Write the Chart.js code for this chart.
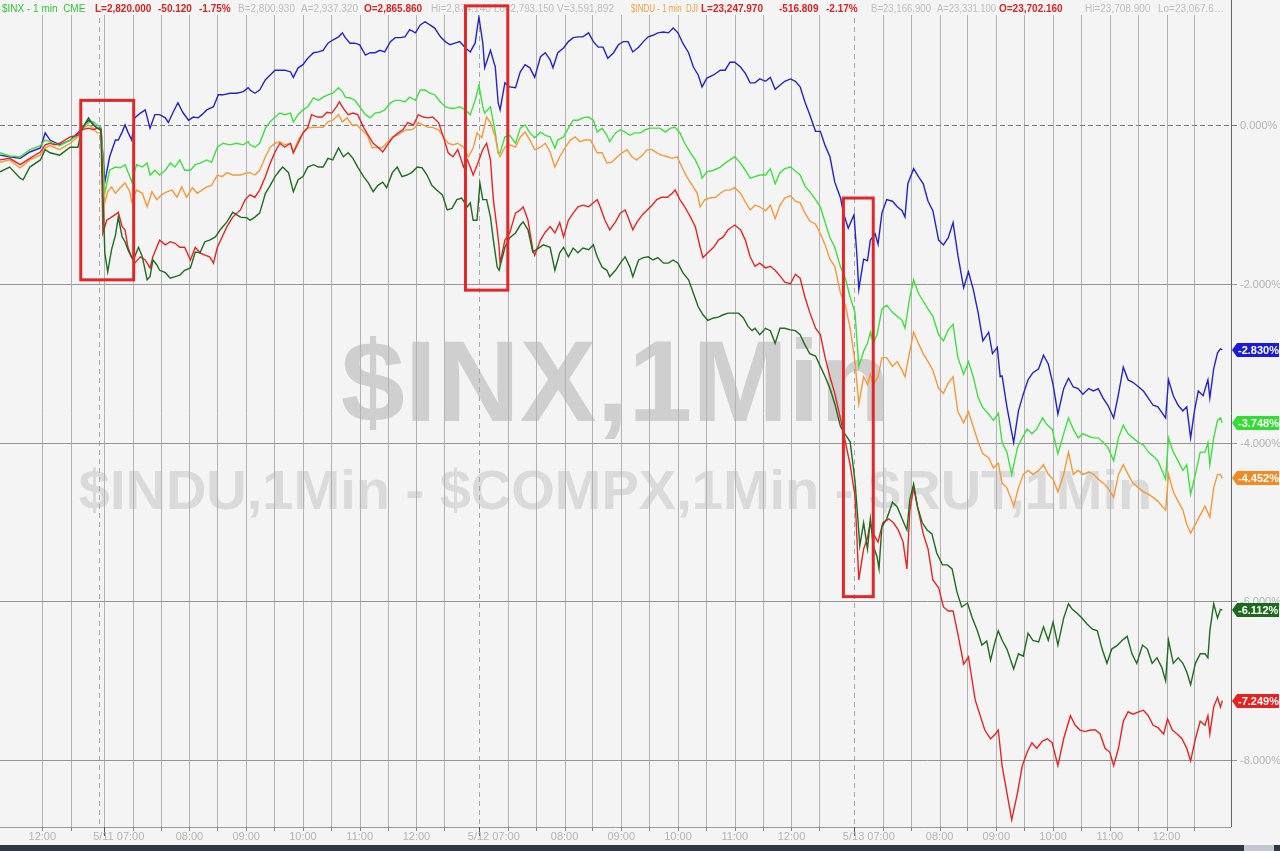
<!DOCTYPE html>
<html>
<head>
<meta charset="utf-8">
<title>$INX 1Min</title>
<script src="https://cdn.jsdelivr.net/npm/chart.js@4.4.0/dist/chart.umd.min.js"></script>
<style>
  html, body { margin: 0; padding: 0; background: #f4f4f4; }
  #wrap { width: 1280px; height: 851px; position: relative; }
</style>
</head>
<body>
<div id="wrap"><canvas id="chart"></canvas></div>
<script>
// x = chart slot (1-min bars incl. the small overnight gaps), y = % change
const compx = [[0,-0.38],[10,-0.40],[21,-0.42],[31,-0.34],[42,-0.29],[47,-0.10],[52,-0.19],[62,-0.25],[73,-0.19],[81,-0.10],[85,-0.04],[92,0.06],[97,0.01],[101,-0.04],[105,-0.04],[109,-0.72],[114,-0.40],[120,-0.19],[123,-0.19],[127,-0.09],[130,0.00],[133,-0.09],[137,-0.19],[140,0.09],[146,0.15],[151,0.19],[156,-0.04],[161,0.13],[166,0.13],[172,0.09],[175,0.03],[180,0.16],[185,0.28],[190,0.16],[196,0.06],[201,0.10],[206,0.09],[210,0.13],[215,0.19],[222,0.23],[227,0.38],[232,0.38],[239,0.40],[246,0.40],[253,0.42],[258,0.47],[260,0.44],[265,0.40],[270,0.44],[276,0.57],[281,0.63],[286,0.69],[291,0.69],[296,0.69],[302,0.67],[305,0.60],[310,0.72],[315,0.76],[320,0.84],[326,0.91],[331,0.92],[336,0.94],[341,1.03],[346,1.07],[352,1.11],[356,1.16],[359,1.10],[364,1.03],[369,1.03],[374,1.01],[380,0.88],[385,0.91],[390,0.91],[395,0.94],[400,0.92],[406,1.05],[411,1.10],[416,1.10],[421,1.11],[426,1.20],[432,1.16],[437,1.26],[442,1.30],[447,1.26],[452,1.22],[458,1.11],[463,1.05],[468,1.01],[473,1.03],[478,1.05],[484,0.97],[489,0.92],[494,1.03],[498,1.36],[502,1.03],[504,0.72],[510,0.94],[515,0.73],[518,0.28],[520,0.19],[525,0.53],[530,0.48],[536,0.47],[541,0.67],[546,0.76],[551,0.72],[556,0.60],[562,0.86],[567,0.91],[572,0.82],[575,0.72],[580,0.91],[586,0.97],[591,1.05],[596,1.10],[601,1.11],[606,1.11],[612,1.16],[617,1.05],[622,0.98],[627,0.98],[632,0.84],[638,0.91],[643,1.01],[648,1.05],[653,1.05],[658,0.92],[664,0.98],[669,1.05],[674,1.11],[679,1.13],[684,1.16],[690,1.17],[695,1.16],[700,1.22],[705,1.16],[710,1.03],[716,0.91],[721,0.73],[726,0.63],[730,0.48],[735,0.59],[742,0.63],[749,0.69],[754,0.69],[759,0.79],[764,0.79],[770,0.73],[775,0.65],[780,0.53],[785,0.53],[790,0.58],[796,0.55],[801,0.60],[806,0.45],[811,0.50],[816,0.55],[822,0.58],[827,0.55],[832,0.48],[837,0.29],[842,0.13],[848,-0.08],[853,-0.08],[858,-0.26],[863,-0.40],[868,-0.72],[874,-0.92],[877,-1.11],[882,-1.30],[888,-1.13],[891,-1.64],[893,-2.07],[898,-1.69],[902,-1.71],[905,-1.45],[910,-1.37],[913,-1.50],[917,-1.11],[922,-0.94],[928,-0.96],[933,-1.03],[938,-1.08],[941,-1.16],[944,-0.74],[950,-0.55],[955,-0.65],[960,-0.74],[965,-0.96],[970,-1.08],[976,-1.45],[981,-1.51],[986,-1.42],[991,-1.23],[996,-1.64],[1002,-2.05],[1007,-1.85],[1012,-2.07],[1017,-2.36],[1022,-2.72],[1028,-2.61],[1032,-2.88],[1037,-2.80],[1040,-3.17],[1042,-3.16],[1047,-3.55],[1054,-4.00],[1059,-3.60],[1064,-3.39],[1069,-3.21],[1074,-3.12],[1080,-3.07],[1085,-2.90],[1090,-3.01],[1095,-3.27],[1100,-3.64],[1106,-3.32],[1111,-3.19],[1116,-3.30],[1121,-3.32],[1126,-3.39],[1132,-3.32],[1137,-3.35],[1142,-3.32],[1147,-3.44],[1152,-3.53],[1158,-3.69],[1163,-3.39],[1168,-3.05],[1173,-3.21],[1178,-3.24],[1184,-3.30],[1189,-3.35],[1194,-3.44],[1199,-3.53],[1204,-3.55],[1212,-3.69],[1215,-3.21],[1220,-3.41],[1225,-3.53],[1230,-3.60],[1234,-3.55],[1238,-3.94],[1242,-3.60],[1246,-3.35],[1251,-3.41],[1256,-3.21],[1258,-3.44],[1262,-3.07],[1266,-2.87],[1269,-2.82],[1271,-2.83]];

const inx = [[0,-0.35],[10,-0.39],[21,-0.40],[31,-0.31],[42,-0.26],[47,-0.19],[52,-0.21],[62,-0.26],[73,-0.19],[81,-0.13],[85,-0.04],[92,0.03],[97,0.04],[101,0.00],[105,-0.03],[109,-0.86],[114,-0.57],[120,-0.53],[125,-0.54],[130,-0.50],[135,-0.65],[137,-0.72],[142,-0.50],[148,-0.53],[153,-0.48],[156,-0.63],[161,-0.57],[166,-0.63],[172,-0.57],[177,-0.48],[182,-0.53],[187,-0.44],[192,-0.57],[198,-0.57],[203,-0.50],[208,-0.48],[215,-0.44],[220,-0.47],[226,-0.28],[232,-0.23],[239,-0.25],[246,-0.23],[253,-0.25],[258,-0.21],[260,-0.25],[265,-0.28],[270,-0.23],[276,-0.04],[281,0.04],[286,0.10],[291,0.15],[296,0.13],[302,0.15],[305,0.04],[310,0.13],[315,0.19],[320,0.23],[326,0.34],[331,0.31],[336,0.35],[341,0.38],[346,0.40],[352,0.47],[356,0.42],[359,0.35],[364,0.34],[369,0.31],[374,0.23],[380,0.13],[385,0.09],[390,0.15],[395,0.16],[400,0.19],[406,0.28],[411,0.31],[416,0.31],[421,0.29],[426,0.35],[432,0.31],[437,0.44],[442,0.44],[447,0.40],[452,0.38],[458,0.29],[463,0.23],[468,0.21],[473,0.21],[478,0.23],[484,0.19],[489,0.13],[494,0.31],[498,0.50],[502,0.23],[504,0.15],[510,0.23],[515,-0.10],[518,-0.35],[520,-0.35],[525,-0.15],[530,-0.13],[536,-0.23],[541,-0.04],[546,0.00],[551,-0.10],[556,-0.16],[562,-0.09],[567,-0.13],[572,-0.15],[577,-0.29],[580,-0.19],[586,-0.15],[591,-0.04],[596,0.06],[601,0.06],[606,0.09],[612,0.10],[617,0.06],[621,-0.09],[626,-0.04],[631,-0.13],[634,-0.21],[640,-0.10],[645,-0.06],[650,-0.09],[655,-0.13],[660,-0.10],[666,-0.10],[671,-0.06],[676,-0.04],[681,-0.04],[686,-0.04],[692,-0.09],[697,-0.04],[702,-0.03],[707,-0.10],[712,-0.23],[718,-0.35],[723,-0.44],[728,-0.57],[730,-0.67],[735,-0.59],[742,-0.57],[749,-0.53],[754,-0.48],[759,-0.44],[764,-0.40],[770,-0.48],[775,-0.57],[780,-0.67],[785,-0.65],[790,-0.63],[796,-0.63],[801,-0.55],[806,-0.74],[811,-0.60],[816,-0.55],[822,-0.53],[827,-0.58],[832,-0.63],[837,-0.77],[842,-0.84],[848,-0.94],[853,-1.03],[858,-1.23],[863,-1.42],[868,-1.54],[874,-1.79],[879,-1.93],[884,-2.17],[889,-2.36],[893,-3.04],[898,-2.85],[902,-2.75],[905,-2.61],[908,-2.75],[912,-2.64],[917,-2.32],[922,-2.27],[928,-2.36],[933,-2.41],[938,-2.46],[941,-2.56],[946,-2.17],[950,-1.95],[955,-2.12],[960,-2.22],[965,-2.32],[970,-2.41],[976,-2.64],[981,-2.72],[986,-2.58],[991,-2.51],[996,-2.93],[1002,-3.14],[1007,-2.98],[1012,-3.17],[1017,-3.43],[1022,-3.56],[1028,-3.64],[1033,-3.72],[1038,-3.63],[1042,-4.00],[1047,-4.12],[1052,-4.40],[1058,-4.06],[1063,-3.94],[1068,-3.83],[1073,-3.89],[1078,-3.83],[1084,-3.69],[1089,-3.78],[1094,-3.83],[1100,-4.14],[1106,-3.89],[1111,-3.69],[1116,-3.83],[1121,-3.94],[1126,-3.89],[1132,-3.92],[1137,-3.94],[1142,-3.94],[1147,-4.00],[1152,-4.06],[1158,-4.23],[1163,-3.94],[1168,-3.78],[1173,-3.89],[1178,-3.94],[1184,-4.00],[1189,-4.03],[1194,-4.12],[1199,-4.17],[1204,-4.23],[1212,-4.46],[1215,-3.94],[1220,-4.12],[1225,-4.23],[1230,-4.35],[1234,-4.28],[1238,-4.65],[1243,-4.40],[1248,-4.12],[1253,-4.12],[1256,-4.00],[1258,-4.28],[1262,-3.94],[1266,-3.72],[1269,-3.69],[1271,-3.75]];

const indu = [[0,-0.47],[10,-0.44],[21,-0.54],[31,-0.44],[42,-0.38],[47,-0.29],[52,-0.26],[62,-0.31],[73,-0.23],[81,-0.15],[85,-0.06],[92,0.00],[97,-0.04],[101,-0.10],[105,-0.10],[109,-0.98],[112,-0.84],[116,-0.78],[120,-0.86],[125,-0.79],[130,-0.73],[135,-0.84],[137,-0.97],[142,-0.82],[148,-0.86],[153,-1.03],[158,-0.84],[163,-0.94],[168,-0.88],[174,-0.84],[179,-0.82],[184,-0.91],[189,-0.78],[194,-0.91],[200,-0.79],[205,-0.86],[210,-0.82],[215,-0.78],[220,-0.76],[226,-0.63],[231,-0.65],[236,-0.60],[242,-0.63],[250,-0.63],[258,-0.60],[260,-0.60],[265,-0.63],[270,-0.57],[276,-0.40],[281,-0.28],[286,-0.23],[291,-0.21],[296,-0.25],[302,-0.23],[305,-0.35],[310,-0.19],[315,-0.10],[320,-0.04],[326,-0.03],[331,-0.03],[336,-0.03],[341,0.04],[346,0.06],[352,0.13],[356,0.04],[361,0.09],[366,0.00],[371,0.00],[376,-0.06],[382,-0.13],[387,-0.29],[392,-0.28],[397,-0.29],[402,-0.23],[408,-0.15],[413,-0.13],[418,-0.09],[423,-0.06],[428,-0.06],[432,-0.03],[435,0.03],[440,0.00],[445,-0.03],[450,-0.03],[456,-0.06],[461,-0.15],[466,-0.23],[471,-0.25],[476,-0.23],[482,-0.28],[487,-0.40],[492,-0.29],[496,-0.10],[501,-0.16],[506,0.10],[510,0.03],[515,-0.15],[518,-0.35],[520,-0.40],[525,-0.28],[530,-0.25],[536,-0.28],[541,-0.15],[546,-0.09],[551,-0.19],[556,-0.31],[562,-0.28],[567,-0.23],[572,-0.34],[577,-0.53],[582,-0.40],[588,-0.28],[593,-0.19],[598,-0.15],[603,-0.21],[608,-0.19],[614,-0.19],[621,-0.35],[626,-0.35],[631,-0.48],[636,-0.47],[642,-0.40],[647,-0.35],[652,-0.31],[657,-0.40],[662,-0.44],[668,-0.38],[673,-0.31],[678,-0.31],[683,-0.35],[688,-0.38],[694,-0.40],[699,-0.42],[704,-0.40],[709,-0.53],[714,-0.65],[720,-0.76],[725,-0.86],[728,-1.03],[733,-0.94],[738,-0.92],[744,-0.91],[749,-0.86],[754,-0.82],[759,-0.82],[764,-0.79],[770,-0.86],[775,-0.97],[780,-1.07],[785,-1.01],[790,-1.03],[796,-1.08],[801,-1.01],[806,-1.18],[811,-1.01],[816,-0.92],[822,-0.89],[827,-0.96],[832,-0.98],[837,-1.11],[842,-1.21],[848,-1.25],[853,-1.37],[858,-1.51],[863,-1.69],[868,-1.78],[874,-2.12],[879,-2.27],[884,-2.56],[889,-2.98],[893,-3.51],[898,-3.17],[902,-3.27],[905,-3.14],[908,-3.27],[913,-3.17],[917,-2.93],[922,-2.93],[928,-3.04],[933,-2.98],[938,-3.09],[941,-3.17],[946,-2.85],[950,-2.61],[955,-2.75],[960,-2.88],[965,-2.98],[970,-3.09],[976,-3.32],[981,-3.38],[986,-3.25],[991,-3.17],[996,-3.61],[1002,-3.75],[1007,-3.61],[1012,-3.80],[1017,-3.99],[1022,-4.14],[1028,-4.19],[1033,-4.32],[1038,-4.26],[1042,-4.51],[1047,-4.57],[1054,-4.80],[1059,-4.57],[1064,-4.40],[1069,-4.35],[1074,-4.40],[1080,-4.35],[1085,-4.28],[1090,-4.40],[1095,-4.46],[1100,-4.62],[1106,-4.40],[1111,-4.12],[1116,-4.40],[1121,-4.35],[1126,-4.40],[1132,-4.37],[1137,-4.40],[1142,-4.46],[1147,-4.51],[1152,-4.57],[1158,-4.69],[1163,-4.40],[1168,-4.28],[1173,-4.40],[1178,-4.51],[1184,-4.57],[1189,-4.62],[1194,-4.65],[1199,-4.69],[1204,-4.74],[1212,-4.85],[1215,-4.40],[1220,-4.62],[1225,-4.74],[1230,-4.85],[1234,-5.03],[1238,-5.14],[1243,-5.03],[1248,-4.91],[1253,-4.80],[1258,-4.94],[1262,-4.57],[1266,-4.40],[1269,-4.40],[1271,-4.45]];

const rut = [[0,-0.44],[10,-0.42],[21,-0.50],[31,-0.42],[42,-0.34],[47,-0.25],[52,-0.23],[57,-0.25],[62,-0.23],[73,-0.15],[81,-0.13],[85,-0.06],[92,-0.04],[97,-0.06],[101,-0.04],[105,-0.06],[107,-1.36],[111,-1.20],[116,-1.16],[122,-1.11],[123,-1.10],[127,-1.28],[130,-1.32],[133,-1.54],[137,-1.67],[140,-1.74],[146,-1.66],[151,-1.70],[156,-1.80],[159,-1.66],[163,-1.54],[166,-1.45],[172,-1.51],[177,-1.47],[182,-1.49],[187,-1.54],[192,-1.54],[198,-1.70],[203,-1.54],[208,-1.61],[213,-1.64],[218,-1.66],[222,-1.74],[226,-1.54],[231,-1.41],[236,-1.28],[242,-1.16],[250,-1.07],[255,-0.94],[260,-0.88],[265,-0.91],[270,-0.82],[276,-0.65],[281,-0.48],[286,-0.34],[291,-0.23],[296,-0.28],[302,-0.23],[305,-0.35],[310,-0.23],[315,-0.10],[320,-0.03],[324,0.13],[330,0.10],[335,0.10],[340,0.16],[345,0.15],[350,0.23],[353,0.29],[357,0.21],[362,0.13],[367,0.15],[372,0.13],[378,-0.03],[383,-0.13],[388,-0.23],[393,-0.28],[398,-0.34],[404,-0.23],[409,-0.15],[414,-0.10],[419,-0.06],[424,0.03],[430,0.00],[435,0.13],[440,0.10],[445,0.09],[450,0.10],[456,0.03],[461,-0.15],[466,-0.35],[471,-0.40],[476,-0.31],[482,-0.53],[486,-0.44],[489,-0.53],[492,-0.63],[497,-0.48],[502,-0.31],[506,-0.23],[510,-0.44],[513,-0.94],[517,-1.32],[519,-1.54],[520,-1.74],[525,-1.45],[530,-1.36],[536,-1.11],[541,-1.07],[544,-1.03],[549,-1.20],[554,-1.57],[556,-1.64],[562,-1.45],[567,-1.35],[572,-1.28],[577,-1.36],[582,-1.23],[586,-1.41],[591,-1.20],[596,-1.11],[601,-1.03],[606,-1.01],[612,-1.03],[617,-0.98],[621,-0.94],[624,-1.03],[629,-1.20],[634,-1.32],[640,-1.22],[645,-1.11],[650,-1.07],[653,-1.16],[658,-1.32],[662,-1.23],[668,-1.13],[673,-1.07],[678,-1.01],[683,-0.94],[688,-0.91],[694,-0.91],[699,-0.86],[702,-0.82],[707,-0.94],[712,-1.03],[718,-1.16],[723,-1.28],[728,-1.54],[731,-1.67],[736,-1.61],[742,-1.54],[747,-1.45],[752,-1.41],[757,-1.32],[764,-1.26],[770,-1.32],[775,-1.45],[780,-1.66],[785,-1.78],[790,-1.74],[796,-1.80],[801,-1.78],[806,-1.83],[811,-1.90],[816,-1.98],[822,-2.00],[827,-1.88],[832,-1.93],[837,-2.17],[842,-2.36],[848,-2.56],[853,-2.64],[858,-2.93],[863,-3.17],[868,-3.38],[874,-3.70],[879,-3.99],[884,-4.28],[889,-4.67],[893,-5.73],[898,-5.34],[902,-5.20],[905,-5.01],[908,-5.15],[913,-5.25],[918,-5.01],[924,-4.96],[929,-5.01],[934,-5.10],[939,-5.25],[943,-5.59],[946,-4.86],[950,-4.57],[955,-4.86],[960,-5.15],[965,-5.34],[970,-5.73],[976,-5.83],[981,-6.07],[986,-6.12],[991,-6.12],[996,-6.41],[1002,-6.79],[1007,-6.70],[1014,-7.24],[1024,-7.62],[1030,-7.73],[1035,-7.67],[1038,-7.62],[1042,-8.07],[1047,-8.41],[1052,-8.75],[1058,-8.41],[1063,-8.07],[1068,-7.90],[1073,-7.78],[1078,-7.85],[1084,-7.76],[1089,-7.73],[1094,-7.78],[1100,-8.07],[1106,-7.73],[1113,-7.44],[1118,-7.56],[1123,-7.62],[1128,-7.64],[1134,-7.62],[1139,-7.62],[1144,-7.67],[1149,-7.85],[1154,-7.90],[1158,-8.07],[1163,-7.85],[1168,-7.51],[1173,-7.39],[1178,-7.42],[1184,-7.39],[1189,-7.37],[1194,-7.44],[1199,-7.56],[1204,-7.59],[1210,-7.67],[1214,-7.48],[1219,-7.62],[1224,-7.67],[1229,-7.73],[1234,-7.85],[1238,-8.01],[1243,-7.73],[1248,-7.51],[1253,-7.56],[1256,-7.44],[1258,-7.67],[1262,-7.33],[1266,-7.21],[1269,-7.33],[1271,-7.25]];

const mid = [[0,-0.59],[10,-0.53],[21,-0.67],[24,-0.69],[31,-0.53],[42,-0.44],[47,-0.31],[52,-0.35],[62,-0.38],[73,-0.28],[81,-0.28],[85,-0.06],[92,0.09],[97,0.00],[101,-0.04],[105,-0.06],[109,-1.61],[112,-1.85],[116,-1.57],[120,-1.39],[123,-1.16],[127,-1.41],[130,-1.47],[133,-1.57],[137,-1.67],[140,-1.66],[144,-1.54],[148,-1.66],[153,-1.95],[156,-1.91],[159,-1.70],[163,-1.76],[166,-1.83],[172,-1.86],[177,-1.93],[182,-1.91],[187,-1.89],[192,-1.83],[198,-1.80],[203,-1.60],[208,-1.61],[213,-1.47],[218,-1.45],[224,-1.41],[229,-1.32],[236,-1.22],[242,-1.10],[250,-1.16],[257,-1.17],[260,-1.20],[265,-1.16],[270,-1.11],[276,-0.86],[281,-0.76],[286,-0.65],[291,-0.57],[294,-0.53],[300,-0.60],[305,-0.84],[310,-0.69],[315,-0.65],[320,-0.53],[326,-0.50],[331,-0.53],[336,-0.53],[341,-0.42],[346,-0.44],[352,-0.29],[357,-0.40],[362,-0.35],[367,-0.42],[372,-0.53],[378,-0.65],[383,-0.73],[388,-0.84],[393,-0.76],[398,-0.72],[402,-0.79],[408,-0.60],[413,-0.53],[418,-0.65],[423,-0.63],[428,-0.60],[434,-0.53],[439,-0.54],[444,-0.63],[449,-0.76],[454,-0.82],[460,-0.88],[465,-1.07],[470,-1.05],[475,-0.94],[480,-0.92],[486,-1.03],[489,-0.98],[492,-1.20],[496,-1.20],[499,-0.73],[502,-0.94],[506,-0.94],[510,-1.16],[513,-1.45],[517,-1.79],[519,-1.83],[525,-1.54],[530,-1.42],[536,-1.36],[541,-1.26],[544,-1.22],[549,-1.32],[554,-1.60],[560,-1.55],[565,-1.51],[572,-1.54],[577,-1.83],[582,-1.61],[586,-1.54],[591,-1.66],[596,-1.55],[601,-1.61],[606,-1.55],[612,-1.57],[617,-1.51],[621,-1.66],[626,-1.79],[631,-1.83],[634,-1.91],[640,-1.83],[645,-1.74],[650,-1.66],[655,-1.79],[658,-1.91],[664,-1.70],[669,-1.67],[674,-1.66],[679,-1.70],[684,-1.67],[690,-1.74],[695,-1.74],[700,-1.70],[705,-1.74],[710,-1.86],[716,-1.95],[721,-2.12],[726,-2.29],[731,-2.39],[736,-2.46],[742,-2.43],[747,-2.42],[752,-2.39],[757,-2.37],[762,-2.37],[768,-2.37],[773,-2.43],[778,-2.54],[782,-2.59],[785,-2.56],[790,-2.64],[796,-2.56],[801,-2.59],[806,-2.75],[811,-2.56],[816,-2.56],[822,-2.58],[827,-2.59],[832,-2.64],[837,-2.77],[842,-2.88],[848,-2.91],[853,-3.04],[858,-3.17],[863,-3.32],[868,-3.51],[874,-3.80],[879,-3.90],[884,-3.99],[889,-4.48],[892,-4.96],[894,-5.30],[898,-5.01],[902,-5.34],[905,-4.96],[908,-5.30],[912,-5.44],[914,-5.59],[917,-5.06],[922,-4.96],[928,-4.75],[933,-4.81],[938,-4.96],[943,-5.10],[946,-4.72],[950,-4.52],[954,-4.81],[959,-5.01],[964,-5.10],[969,-5.15],[974,-5.39],[980,-5.54],[985,-5.54],[990,-5.59],[995,-5.88],[1000,-6.07],[1006,-6.02],[1011,-6.21],[1016,-6.36],[1021,-6.55],[1026,-6.50],[1030,-6.74],[1035,-6.49],[1038,-6.37],[1042,-6.49],[1047,-6.60],[1054,-6.85],[1059,-6.66],[1064,-6.69],[1069,-6.40],[1074,-6.49],[1080,-6.51],[1085,-6.32],[1090,-6.49],[1095,-6.26],[1100,-6.55],[1106,-6.21],[1111,-6.03],[1115,-6.10],[1120,-6.15],[1125,-6.21],[1130,-6.28],[1136,-6.35],[1141,-6.37],[1146,-6.60],[1151,-6.78],[1156,-6.60],[1162,-6.55],[1167,-6.49],[1172,-6.44],[1177,-6.66],[1182,-6.78],[1188,-6.55],[1193,-6.60],[1198,-6.78],[1203,-6.71],[1208,-6.83],[1212,-7.00],[1215,-6.49],[1220,-6.78],[1225,-6.71],[1230,-6.78],[1234,-6.89],[1238,-7.05],[1243,-6.78],[1248,-6.66],[1253,-6.66],[1256,-6.71],[1258,-6.37],[1262,-6.03],[1266,-6.21],[1269,-6.10],[1271,-6.11]];

// axis: half-hour grid, day-break lines, hour labels (same x units as the data)
const gridTimes = [44, 74, 108, 138, 167, 197, 226, 256, 285, 315, 344, 374, 403, 433, 462,
  528, 557, 587, 616, 646, 675, 705, 734, 764, 793, 823, 852,
  918, 947, 977, 1006, 1036, 1065, 1095, 1124, 1154, 1183, 1213, 1242];
const dayBreaks = [103, 498, 888];
const sessionOpens = [108, 498, 888];
const hourTicks = [44, 138, 197, 256, 315, 374, 433, 528, 587, 646, 705, 764, 823, 918, 977, 1036, 1095, 1154, 1213];
const hourLabels = ['12:00', '5/11 07:00', '08:00', '09:00', '10:00', '11:00', '12:00',
  '5/12 07:00', '08:00', '09:00', '10:00', '11:00', '12:00',
  '5/13 07:00', '08:00', '09:00', '10:00', '11:00', '12:00'];
const yTicks = [0, -2, -4, -6, -8];

// red highlight boxes: [from, to, top %, bottom %]
const highlights = [[84, 139, 0.31, -1.95], [484, 528, 1.50, -2.08], [877, 908, -0.92, -5.94]];

// last-value tags as printed on the right axis
const lastTags = { '$COMPX': '-2.830%', '$INX': '-3.748%', '$INDU': '-4.452%', '$MID': '-6.112%', '$RUT': '-7.249%' };

const FONT = '"Liberation Sans", Arial, sans-serif';

const lines = [
  { label: '$MID',   data: mid,   color: '#1f6b1f', tag: '#1d6a1d' },
  { label: '$RUT',   data: rut,   color: '#e22626', tag: '#e42222' },
  { label: '$INDU',  data: indu,  color: '#f29a3a', tag: '#f08a24' },
  { label: '$INX',   data: inx,   color: '#3fdf3f', tag: '#33dd33' },
  { label: '$COMPX', data: compx, color: '#2424c4', tag: '#1a1ad8' }
];

// quote line across the top: [x, text, colour, bold, max width]
const RED = '#d42424', GREY = '#bdbdbd';
const header = [
  [2,    '$INX - 1 min  CME', '#33c433', false, 88],
  [95,   'L=2,820.000', RED, true, 58],
  [158,  '-50.120', RED, true, 38],
  [199,  '-1.75%', RED, true, 34],
  [238,  'B=2,800.930', GREY, false, 58],
  [301,  'A=2,937.320', GREY, false, 58],
  [364,  'O=2,865.860', RED, true, 62],
  [431,  'Hi=2,874.140', GREY, false, 62],
  [494,  'Lo=2,793.150', GREY, false, 60],
  [557,  'V=3,591,892', GREY, false, 66],
  [631,  '$INDU - 1 min  DJI', '#eea23c', false, 67],
  [701,  'L=23,247.970', RED, true, 74],
  [779,  '-516.809', RED, true, 43],
  [826,  '-2.17%', RED, true, 34],
  [871,  'B=23,166.900', GREY, false, 60],
  [937,  'A=23,331.100', GREY, false, 59],
  [999,  'O=23,702.160', RED, true, 82],
  [1085, 'Hi=23,708.900', GREY, false, 68],
  [1158, 'Lo=23,067.6…', GREY, false, 70]
];

function hline(ctx, x1, x2, y) { ctx.beginPath(); ctx.moveTo(x1, y); ctx.lineTo(x2, y); ctx.stroke(); }
function vline(ctx, x, y1, y2) { ctx.beginPath(); ctx.moveTo(x, y1); ctx.lineTo(x, y2); ctx.stroke(); }

const decor = {
  id: 'decor',
  beforeDraw(chart) {
    const { ctx, width, height } = chart;
    ctx.save();
    ctx.fillStyle = '#f4f4f4';
    ctx.fillRect(0, 0, width, height);
    ctx.restore();
  },
  beforeDatasetsDraw(chart) {
    const { ctx, chartArea: a, scales: { x, y } } = chart;
    ctx.save();
    // watermark
    const cx = (a.left + a.right) / 2;
    ctx.textAlign = 'center';
    ctx.textBaseline = 'alphabetic';
    ctx.fillStyle = '#cfcfcf';
    ctx.font = 'bold 115px ' + FONT;
    ctx.fillText('$INX,1Min', cx, 421);
    ctx.fillStyle = '#dadada';
    ctx.font = 'bold 56px ' + FONT;
    ctx.fillText('$INDU,1Min - $COMPX,1Min - $RUT,1Min', cx, 509);

    // vertical grid
    ctx.lineWidth = 1;
    ctx.strokeStyle = '#b2b2b2';
    gridTimes.forEach(t => vline(ctx, Math.round(x.getPixelForValue(t)) + 0.5, a.top, a.bottom));
    ctx.strokeStyle = '#a8a8a8';
    ctx.setLineDash([5, 4]);
    dayBreaks.forEach(t => vline(ctx, Math.round(x.getPixelForValue(t)) + 0.5, a.top, a.bottom));

    // horizontal grid
    yTicks.forEach(v => {
      const py = Math.round(y.getPixelForValue(v)) + 0.5;
      if (v === 0) {
        ctx.setLineDash([5, 3]);
        ctx.strokeStyle = '#7a7a7a';
      } else {
        ctx.setLineDash([]);
        ctx.strokeStyle = '#959595';
      }
      hline(ctx, a.left, a.right + 6, py);
    });
    ctx.restore();
  },
  afterDatasetsDraw(chart) {
    const { ctx, chartArea: a, scales: { x, y }, width, height } = chart;
    ctx.save();

    // header band
    ctx.fillStyle = '#f4f4f4';
    ctx.fillRect(0, 0, a.right, 15);
    ctx.textBaseline = 'alphabetic';
    ctx.textAlign = 'left';
    header.forEach(([hx, text, color, bold, maxW]) => {
      ctx.font = (bold ? 'bold ' : '') + '10px ' + FONT;
      ctx.fillStyle = color;
      ctx.fillText(text, hx, 12, maxW);
    });

    // red highlight boxes
    ctx.strokeStyle = '#e12828';
    ctx.lineWidth = 3;
    highlights.forEach(([t1, t2, top, bottom]) => {
      const x1 = x.getPixelForValue(t1), x2 = x.getPixelForValue(t2);
      const y1 = y.getPixelForValue(top), y2 = y.getPixelForValue(bottom);
      ctx.strokeRect(x1, y1, x2 - x1, y2 - y1);
    });

    // axes lines
    ctx.lineWidth = 1;
    ctx.strokeStyle = '#666';
    vline(ctx, a.right + 0.5, 0, a.bottom);
    ctx.strokeStyle = '#9a9a9a';
    hline(ctx, a.left, a.right, a.bottom + 0.5);

    // bottom ticks
    ctx.strokeStyle = '#8a8a8a';
    gridTimes.forEach(t => vline(ctx, Math.round(x.getPixelForValue(t)) + 0.5, a.bottom, a.bottom + 4));
    ctx.strokeStyle = '#555';
    sessionOpens.forEach(t => vline(ctx, Math.round(x.getPixelForValue(t)) + 0.5, a.bottom, a.bottom + 9));

    // x labels
    ctx.font = '11px ' + FONT;
    ctx.fillStyle = '#b3b3b3';
    ctx.textAlign = 'center';
    ctx.textBaseline = 'middle';
    hourTicks.forEach((t, i) => {
      const lab = hourLabels[i];
      const shift = lab.includes('/') ? -14 : 0;
      ctx.fillText(lab, x.getPixelForValue(t) + shift, a.bottom + 10);
    });

    // y labels
    ctx.textAlign = 'left';
    yTicks.forEach(v => {
      ctx.fillText(v.toFixed(3) + '%', a.right + 9, y.getPixelForValue(v) + 1);
    });

    // last-value tags
    ctx.font = 'bold 11px ' + FONT;
    lines.forEach(s => {
      const last = s.data[s.data.length - 1][1];
      const py = Math.round(y.getPixelForValue(last));
      ctx.fillStyle = s.tag;
      ctx.beginPath();
      ctx.moveTo(a.right + 1, py);
      ctx.lineTo(a.right + 6, py - 7);
      ctx.lineTo(width - 1, py - 7);
      ctx.lineTo(width - 1, py + 7);
      ctx.lineTo(a.right + 6, py + 7);
      ctx.closePath();
      ctx.fill();
      ctx.fillStyle = '#ffffff';
      ctx.fillText(lastTags[s.label], a.right + 7, py + 1);
    });

    // bottom bar
    ctx.fillStyle = '#2f3842';
    ctx.fillRect(0, height - 6, width, 6);
    ctx.fillStyle = '#c4c8cc';
    ctx.fillRect(width - 36, height - 6, 30, 6);
    ctx.restore();
  }
};

new Chart(document.getElementById('chart'), {
  type: 'line',
  data: {
    datasets: lines.map(s => ({
      label: s.label,
      data: s.data.map(([t, v]) => ({ x: t, y: v })),
      borderColor: s.color,
      borderWidth: 1.4,
      pointRadius: 0,
      tension: 0,
      fill: false
    }))
  },
  options: {
    responsive: true,
    maintainAspectRatio: false,
    animation: false,
    layout: { padding: 0 },
    plugins: { legend: { display: false }, tooltip: { enabled: false } },
    scales: {
      x: {
        type: 'linear', min: 0, max: 1280,
        grid: { display: false }, border: { display: false },
        ticks: { display: false },
        afterFit: s => { s.height = 24; }
      },
      y: {
        position: 'right', min: -8.841, max: 1.574,
        grid: { display: false }, border: { display: false },
        ticks: { display: false },
        afterFit: s => { s.width = 49; }
      }
    }
  },
  plugins: [decor]
});
</script>
</body>
</html>
